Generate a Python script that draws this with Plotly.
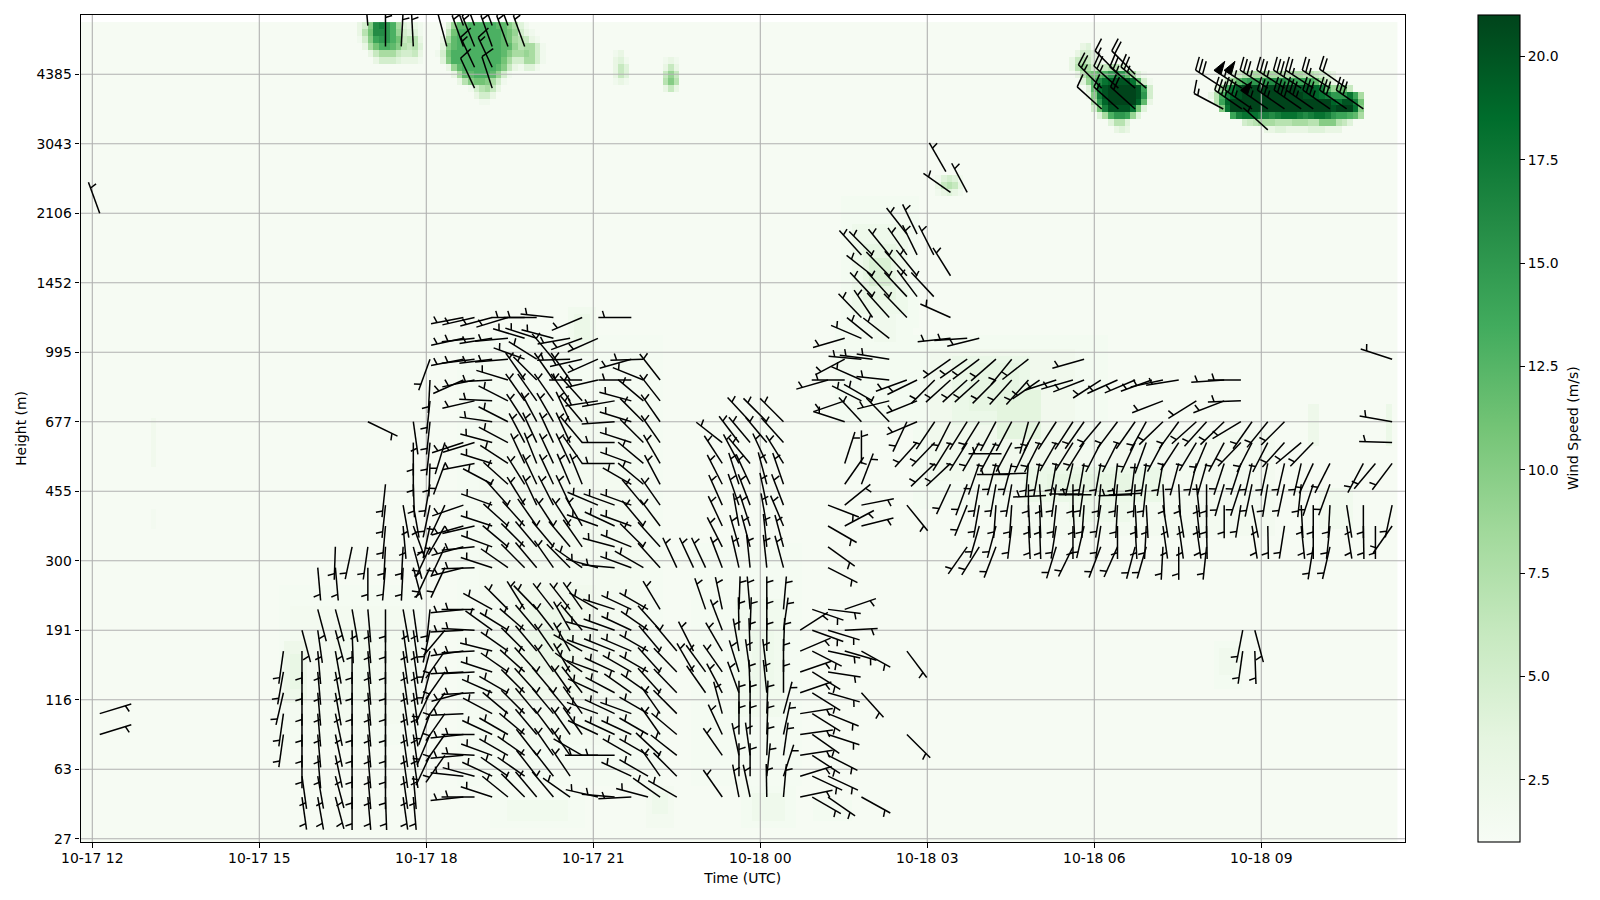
import math
from datetime import datetime, timedelta
import plotly.graph_objects as go

# ---------- axis labels ----------
height_labels = [27, 63, 116, 191, 300, 455, 677, 995, 1452, 2106, 3043, 4385]
height_ticks = list(range(0, 120, 10))
time_labels = ["2024-10-17 12:00", "2024-10-17 15:00", "2024-10-17 18:00", "2024-10-17 21:00",
               "2024-10-18 00:00", "2024-10-18 03:00", "2024-10-18 06:00", "2024-10-18 09:00"]
cbar_ticks = [2.5, 5, 7.5, 10, 12.5, 15, 17.5, 20]
T0 = datetime(2024, 10, 17, 12, 0)

# ---------- wind-speed field: background, broad soft patches, then cell rows of the jets ----------
background = 1.2
# (first col, last col, first level, last level, m/s)  col = 6 minute steps from T0
soft_patches = [
    (34, 59, 14, 36, 1.4), (36, 57, 17, 33, 1.6), (35, 38, 20, 28, 2.3), (36, 37, 22, 26, 2.9), (44, 50, 20, 30, 1.8),
    (66, 102, 8, 72, 1.4), (70, 98, 14, 62, 1.6), (76, 90, 20, 36, 1.9), (79, 86, 24, 33, 2.4), (81, 84, 26, 30, 2.8),
    (86, 90, 70, 76, 1.8), (87, 89, 72, 75, 2.5),
    (72, 88, 2, 6, 1.4), (75, 85, 3, 5, 1.8), (100, 104, 2, 7, 1.6), (101, 103, 4, 6, 2.2),
    (117, 126, 2, 7, 1.5), (119, 124, 3, 6, 2.1), (130, 136, 3, 5, 1.5),
    (108, 127, 8, 42, 1.4), (116, 124, 18, 34, 1.8), (119, 122, 22, 30, 2.2),
    (134, 147, 60, 74, 1.5), (135, 148, 74, 92, 1.5), (137, 146, 76, 88, 2.2), (139, 144, 78, 85, 3.2), (140, 143, 80, 83, 4.4),
    (141, 144, 72, 77, 2.0),
    (148, 182, 48, 72, 1.5), (151, 176, 52, 70, 1.9), (155, 168, 60, 69, 2.6), (158, 166, 62, 68, 3.2), (163, 170, 58, 64, 3.6),
    (165, 212, 44, 58, 1.6), (168, 192, 49, 53, 2.6), (172, 186, 50, 52, 3.2), (176, 186, 46, 50, 2.2),
    (219, 220, 57, 62, 2.3), (233, 233, 57, 62, 2.5), (221, 226, 45, 50, 1.8), (11, 11, 54, 60, 1.9), (11, 11, 45, 47, 1.6),
    (202, 206, 22, 28, 1.5), (203, 205, 24, 27, 2.0),
]
# (level, first col, cell values)
jet_rows = [
    # 17 Oct 17h jet
    (117, 48, [3, 5, 10, 16, 17, 15, 13, 8, 4, 3, 3, 2]),
    (116, 48, [3, 7, 11, 16, 16, 15, 13, 9, 5, 4, 4, 2]),
    (115, 48, [2, 5, 10, 14, 15, 15, 13, 11, 6, 7, 7, 3]),
    (114, 49, [3, 8, 11, 13, 13, 12, 10, 7, 6, 7, 4]),
    (113, 50, [3, 6, 8, 8, 8, 6, 5, 5, 6, 3]),
    (112, 51, [3, 5, 5, 5, 4, 3, 3, 3, 2]),
    # 17 Oct 19h jet
    (117, 64, [4, 9, 12, 12, 13, 13, 13, 13, 13, 12, 12, 10, 8, 4, 2]),
    (116, 64, [6, 11, 13, 13, 13, 13, 13, 13, 13, 13, 12, 11, 9, 5, 3, 2]),
    (115, 63, [3, 8, 12, 13, 13, 13, 13, 13, 13, 13, 13, 12, 11, 8, 7, 6, 3, 2]),
    (114, 63, [4, 10, 12, 13, 13, 13, 13, 13, 13, 13, 13, 12, 12, 9, 7, 8, 8, 5, 2]),
    (113, 62, [2, 5, 11, 13, 13, 13, 13, 13, 13, 13, 13, 13, 12, 10, 8, 8, 9, 8, 5, 2]),
    (112, 63, [4, 10, 13, 13, 13, 13, 13, 13, 13, 13, 13, 11, 8, 5, 5, 8, 8, 5, 2]),
    (111, 64, [3, 9, 12, 13, 13, 13, 13, 13, 13, 12, 10, 6, 3, 2, 4, 4, 2]),
    (110, 65, [3, 8, 12, 12, 13, 13, 13, 12, 9, 5, 2]),
    (109, 66, [3, 7, 10, 11, 11, 10, 8, 5, 2]),
    (108, 68, [2, 5, 7, 8, 6, 3]),
    (107, 69, [3, 5, 5, 3]),
    (106, 70, [2, 2]),
    # small spots
    (113, 94, [2, 3]), (112, 94, [3, 4, 2]), (111, 94, [3, 6, 4]), (110, 94, [3, 6, 4]), (109, 94, [2, 3, 2]),
    (112, 103, [2, 3, 2]), (111, 103, [3, 6, 3]), (110, 103, [6, 9, 6]), (109, 103, [7, 10, 7]), (108, 103, [3, 6, 3]),
    (95, 152, [2, 4, 5, 4, 2]), (94, 152, [3, 6, 7, 6, 3]), (93, 152, [2, 3, 4, 3, 2]),
    # 18 Oct 06h jet
    (114, 178, [3, 4]),
    (113, 177, [3, 5, 5, 4]),
    (112, 176, [3, 6, 7, 6, 4, 3]),
    (111, 176, [3, 7, 9, 8, 5, 5, 6, 7, 7, 5, 3]),
    (110, 177, [3, 7, 10, 11, 12, 13, 15, 16, 15, 12, 8, 4, 2]),
    (109, 178, [4, 9, 13, 16, 18, 19, 20, 20, 20, 18, 12, 5, 2]),
    (108, 179, [4, 12, 18, 20, 21, 21, 21, 21, 21, 20, 14, 5]),
    (107, 179, [3, 10, 17, 20, 21, 21, 21, 21, 21, 20, 15, 5]),
    (106, 180, [8, 15, 19, 21, 21, 21, 21, 21, 19, 12, 3]),
    (105, 180, [5, 11, 17, 20, 20, 20, 20, 18, 11, 4]),
    (104, 181, [4, 8, 13, 15, 15, 14, 9, 4]),
    (103, 183, [4, 7, 7, 4]),
    (102, 184, [3, 4, 3]),
    # 18 Oct 09h jet
    (110, 204, [2, 4, 5, 7, 7, 8, 8, 8, 8, 8, 7, 7, 8, 8, 7, 7, 6, 5, 4, 3]),
    (109, 203, [3, 6, 9, 12, 14, 15, 15, 15, 15, 16, 16, 16, 15, 14, 14, 14, 13, 12, 8, 5, 3]),
    (108, 202, [4, 9, 14, 18, 20, 21, 21, 21, 21, 21, 21, 21, 21, 21, 21, 20, 20, 20, 19, 17, 12, 9, 11, 11, 6]),
    (107, 201, [3, 7, 13, 17, 19, 20, 21, 21, 21, 21, 21, 21, 21, 21, 21, 21, 21, 20, 20, 19, 18, 17, 15, 15, 15, 18, 14, 8]),
    (106, 202, [7, 14, 19, 21, 21, 21, 21, 21, 21, 21, 21, 21, 21, 21, 21, 21, 21, 21, 21, 21, 21, 19, 18, 20, 20, 17, 11]),
    (105, 203, [10, 18, 21, 21, 21, 21, 21, 21, 21, 21, 21, 21, 21, 21, 21, 21, 21, 21, 21, 21, 20, 21, 21, 21, 18, 10]),
    (104, 205, [14, 17, 18, 18, 18, 17, 17, 16, 17, 18, 18, 18, 17, 16, 17, 18, 18, 17, 15, 14, 14, 13, 12, 8]),
    (103, 207, [5, 6, 7, 8, 8, 8, 7, 7, 7, 8, 8, 8, 7, 7, 10, 10, 10, 7, 6, 4]),
    (102, 211, [3, 3, 4, 4, 3, 3, 3, 3, 4, 4, 4, 3, 3, 3]),
]

# ---------- wind barbs: minutes after T0, level index, direction the wind comes from, knots ----------
# (minute, first level, direction for every third level; 0 = no barb)
barb_columns = [
    (8, 15, [73, 73]),
    (206, 15, [188, 188, 193, 190, 188]),
    (226, 6, [172, 172, 180, 180, 180, 180, 180, 180, 165]),
    (243, 6, [170, 170, 175, 175, 175, 175, 175, 175, 172, 165, 0, 175]),
    (262, 6, [165, 165, 168, 168, 168, 170, 170, 170, 165, 165, 0, 175, 182]),
    (280, 6, [180, 180, 180, 180, 180, 180, 180, 180, 178, 170, 0, 0, 192]),
    (297, 6, [175, 175, 175, 175, 175, 175, 175, 175, 175, 175, 0, 180, 188]),
    (316, 6, [178, 180, 180, 180, 180, 180, 180, 180, 180, 180, 0, 185, 183, 185, 186, 186]),
    (335, 6, [172, 172, 172, 172, 172, 172, 172, 172, 172, 170, 0, 183, 183, 175, 170]),
    (346, 6, [175, 175, 172, 172, 172, 172, 172, 172, 172, 172, 0, 165, 165, 160, 170, 178, 180, 180, 172]),
    (364, 12, [205, 203, 200, 205, 195, 195, 192, 186, 0, 205, 205, 192, 192, 190, 182, 186, 186, 186, 183, 200]),
    (380, 12, [215, 215, 215, 215, 215, 215, 220, 0, 0, 205, 205, 210, 205, 0, 200, 197]),
    (400, 6, [264, 276, 265, 264, 267, 255, 267, 262, 267, 264]),
    (412, 6, [270, 285, 273, 270, 0, 267, 267, 267, 273, 270]),
    (431, 6, [288, 295, 290, 295, 298, 294, 288, 284, 306, 299]),
    (448, 6, [309, 305, 300, 300, 310, 300, 305, 305, 302, 315]),
    (466, 6, [315, 305, 305, 310, 315, 315, 312, 315, 311, 328]),
    (479, 6, [320, 322, 322, 320, 320, 318, 318, 320, 320, 316]),
    (497, 6, [320, 322, 325, 323, 320, 320, 325, 325, 322, 322]),
    (515, 6, [305, 326, 325, 325, 320, 325, 330, 330, 330, 322]),
    (528, 6, [0, 0, 300, 325, 325, 322, 305, 300, 320, 325]),
    (545, 6, [283, 0, 270, 295, 290, 295, 290, 290, 285, 300]),
    (563, 6, [275, 0, 270, 295, 295, 298, 295, 292, 290, 288]),
    (581, 6, [267, 295, 300, 295, 290, 305, 300, 293, 295, 295]),
    (599, 6, [285, 300, 300, 300, 300, 305, 300, 300, 305, 300]),
    (612, 6, [305, 325, 313, 325, 325, 318, 318, 320, 318, 329]),
    (630, 6, [300, 315, 308, 310, 315, 316, 316, 320, 0, 0, 0, 335]),
    (648, 24, [330, 333, 0, 0, 0, 335]),
    (661, 21, [325, 324, 0, 0, 341, 0, 335]),
    (679, 6, [325, 0, 325, 335, 345, 332, 325, 330, 339, 348, 0, 339, 333, 335, 336, 333, 327, 308]),
    (697, 6, [349, 360, 348, 360, 360, 340, 343, 350, 359, 2, 0, 347, 344, 350, 341, 342, 332, 323]),
    (709, 6, [348, 360, 352, 360, 360, 358, 352, 358, 2, 355, 0, 354, 345, 342, 339, 335, 320, 320, 317]),
    (727, 6, [359, 6, 2, 2, 2, 354, 353, 360, 360, 360, 0, 354, 354, 350, 348, 345, 335, 320, 315]),
    (745, 6, [5, 18, 8, 12, 15, 360, 360, 2, 8, 5, 0, 345, 345, 337, 339, 341, 328, 318, 315]),
    (763, 6, [78, 73, 81, 82, 81, 71, 71, 67, 57]),
    (776, 6, [120, 115, 123, 125, 122, 122, 122, 117, 110, 109]),
    (793, 6, [125, 115, 117, 108, 112, 106, 99, 102, 107, 97, 0, 117, 126, 120, 111]),
    (811, 27, [106, 87, 71, 0, 0, 0, 62, 51, 35, 18]),
    (829, 6, [119, 0, 0, 0, 0, 138, 0, 119, 0, 0, 0, 0, 0, 76, 79, 21, 360]),
    (878, 15, [135, 0, 0, 0, 143, 0, 0, 0, 0, 0, 0, 141]),
    (1240, 27, [188, 191]),
    (1253, 27, [178, 165]),
]
# level -> {minute: direction}
barb_rows = {
    39: {400: 256, 412: 268, 431: 288, 448: 305, 466: 315, 479: 320, 497: 325, 515: 315, 528: 305, 545: 285, 563: 275, 581: 290, 594: 300, 612: 318},
    42: {400: 255, 412: 264, 431: 290, 448: 310, 466: 315, 479: 320, 497: 320, 515: 320, 528: 325, 563: 285, 581: 292, 594: 315, 612: 318,
         943: 215, 956: 212, 974: 201, 1039: 197, 1057: 206, 1087: 201, 1105: 204, 1124: 195,
         1136: 196, 1154: 183, 1171: 180, 1201: 186, 1316: 189, 1334: 193},
    45: {400: 254, 412: 257, 431: 288, 448: 312, 466: 318, 479: 325, 497: 327, 515: 327, 528: 330, 545: 290, 563: 295, 581: 290, 594: 320, 612: 323,
         956: 196, 974: 195, 991: 187, 1009: 177, 1021: 178, 1039: 189, 1057: 180, 1069: 193, 1087: 189, 1105: 180, 1124: 177,
         1136: 183, 1154: 172, 1171: 172, 1190: 172, 1201: 179, 1250: 171, 1267: 179, 1285: 189, 1303: 174, 1316: 180, 1334: 186,
         1352: 171, 1370: 179, 1383: 180, 1401: 215},
    48: {400: 251, 431: 290, 448: 318, 466: 328, 479: 335, 497: 333, 515: 335, 545: 293, 563: 290, 581: 290, 594: 320, 612: 325,
         943: 202, 956: 190, 974: 184, 991: 184, 1009: 177, 1021: 178, 1039: 186, 1057: 177, 1069: 184, 1087: 189, 1105: 183, 1124: 177,
         1136: 177, 1154: 171, 1171: 171, 1190: 174, 1201: 180, 1220: 180, 1238: 189, 1250: 169, 1303: 177, 1316: 180, 1334: 183,
         1352: 171, 1370: 180, 1401: 192},
    51: {431: 298, 448: 312, 466: 328, 479: 335, 497: 335, 515: 337, 528: 338, 581: 300, 594: 310, 612: 332,
         925: 205, 943: 200, 956: 190, 974: 190, 991: 190, 1009: 180, 1021: 176, 1039: 188, 1057: 180, 1069: 188, 1087: 185, 1105: 185, 1124: 183,
         1136: 186, 1154: 177, 1171: 177, 1190: 174, 1201: 180, 1220: 196, 1238: 198, 1250: 192, 1267: 189, 1285: 192, 1303: 186, 1316: 198, 1334: 200},
    54: {412: 259, 431: 287, 448: 303, 466: 335, 479: 338, 497: 335, 515: 335, 528: 325, 563: 270, 581: 290, 594: 310, 612: 330,
         908: 226, 925: 227, 956: 199, 974: 195, 991: 195, 1009: 185, 1021: 190, 1039: 190, 1057: 193, 1069: 190, 1087: 190, 1105: 187, 1124: 187,
         1136: 189, 1154: 190, 1171: 195, 1190: 193, 1201: 196, 1220: 198, 1238: 198, 1250: 193, 1267: 192, 1285: 193, 1303: 193, 1316: 205, 1334: 207,
         1370: 208, 1383: 220, 1401: 217},
    57: {400: 252, 412: 253, 431: 285, 448: 298, 466: 332, 479: 335, 497: 335, 515: 335, 528: 320, 563: 270, 581: 288, 594: 315, 612: 325,
         889: 222, 908: 224, 925: 212, 943: 212, 956: 210, 974: 208, 991: 208, 1009: 205, 1021: 207, 1039: 210, 1057: 212, 1069: 212, 1087: 207, 1105: 207, 1124: 205,
         1136: 200, 1154: 208, 1171: 213, 1190: 211, 1201: 203, 1220: 208, 1238: 224, 1250: 207, 1267: 207, 1285: 222, 1303: 230, 1316: 224, 1401: 272},
    60: {297: 116, 431: 278, 448: 297, 466: 327, 479: 332, 497: 330, 515: 335, 528: 320, 563: 266, 581: 287, 594: 315, 612: 325,
         811: 288, 829: 317, 859: 316, 878: 205, 889: 247, 908: 214, 925: 207, 943: 212, 956: 212, 974: 208, 991: 208, 1009: 195, 1021: 208, 1039: 213, 1057: 213, 1069: 215, 1087: 220, 1105: 217, 1124: 215,
         1136: 209, 1154: 226, 1171: 216, 1190: 228, 1201: 222, 1220: 226, 1238: 239, 1250: 215, 1267: 219, 1285: 225, 1401: 280},
    63: {412: 257, 431: 273, 448: 297, 466: 325, 479: 325, 497: 325, 515: 325, 528: 318, 545: 261, 563: 260, 581: 285, 594: 310, 612: 322,
         811: 251, 829: 297, 841: 300, 859: 256, 889: 248, 1154: 249, 1190: 238, 1220: 249, 1238: 268},
    66: {400: 246, 412: 258, 431: 267, 448: 287, 466: 325, 479: 315, 497: 325, 515: 325, 528: 270, 545: 257, 581: 270, 594: 292, 612: 322,
         793: 254, 811: 270, 829: 294, 859: 276, 878: 250, 889: 244, 908: 225, 925: 228, 943: 228, 956: 228, 974: 225, 991: 222,
         1009: 222, 1021: 235, 1039: 252, 1057: 254, 1069: 249, 1087: 237, 1105: 246, 1124: 247, 1142: 250, 1154: 258, 1171: 261, 1220: 266, 1238: 270},
    69: {400: 259, 412: 263, 431: 263, 448: 265, 466: 290, 479: 302, 497: 320, 515: 268, 528: 257, 545: 246, 581: 254, 594: 268,
         811: 242, 829: 275, 841: 277, 859: 279, 925: 235, 943: 235, 956: 233, 974: 229, 991: 219, 1009: 232, 1069: 254, 1401: 288},
    72: {400: 258, 412: 264, 431: 261, 448: 265, 466: 287, 479: 288, 497: 285, 515: 260, 528: 250, 545: 246,
         811: 254, 829: 293, 841: 309, 859: 308, 925: 264, 943: 266, 956: 256},
    75: {400: 259, 412: 257, 431: 255, 448: 253, 466: 270, 479: 270, 497: 276, 528: 247, 581: 270,
         829: 316, 841: 326, 859: 318, 878: 316, 925: 294},
    78: {841: 317, 859: 318, 878: 317, 889: 323, 907: 317},
    81: {841: 308, 859: 316, 878: 318, 889: 321, 925: 328},
    84: {829: 318, 841: 315, 859: 321, 878: 325, 889: 334, 907: 333},
    87: {878: 322, 889: 334},
    90: {8: 340},
    93: {943: 332, 925: 305},
    96: {920: 330},
}
# flat barbs that sit between the regular levels: (minute, level, direction)
barb_between = [(980, 55.4, 270), (989, 52.4, 270), (1007, 52.6, 268), (1028, 49.4, 267), (1067, 49.6, 270), (1077, 49.5, 270), (1120, 49.5, 268), (1131, 49.7, 267)]
# jet barbs with more feathers: (minute, level, direction, knots)
barb_fast = [
    (1088, 105, 312, 10), (1106, 105, 312, 15), (1124, 105, 312, 20),
    (1088, 108, 315, 25), (1106, 108, 312, 25), (1124, 108, 310, 25), (1136, 108, 310, 25),
    (1106, 110, 315, 15), (1124, 110, 315, 20),
    (1219, 105, 298, 15), (1239, 105, 305, 35), (1250, 105, 305, 35), (1267, 105, 305, 55), (1285, 105, 305, 35),
    (1303, 105, 305, 35), (1316, 105, 305, 35), (1334, 105, 305, 35), (1352, 105, 305, 30), (1370, 105, 305, 30),
    (1219, 108, 303, 30), (1239, 108, 303, 55), (1250, 108, 303, 55), (1267, 108, 303, 35), (1285, 108, 303, 35),
    (1303, 108, 303, 35), (1316, 108, 303, 25), (1334, 108, 303, 25), (1352, 108, 305, 20),
    (1267, 102, 312, 5),
    (297, 117, 355, 10), (316, 114, 360, 15), (333, 114, 3, 5), (346, 114, 357, 5),
    (382, 114, 345, 10), (400, 114, 340, 15), (412, 114, 338, 15), (431, 114, 340, 15), (448, 114, 340, 15), (466, 114, 340, 15),
    (400, 117, 340, 15), (412, 117, 340, 15), (431, 117, 340, 15), (448, 117, 340, 15),
    (412, 111, 335, 15), (431, 111, 335, 15), (412, 108, 335, 10), (431, 108, 342, 10),
]

# ---------- page geometry ----------
W, H = 1600, 900
PLOT_L, PLOT_R, PLOT_T, PLOT_B = 80.5, 1405.0, 15.0, 842.0
PX_PER_HOUR = 167.0 / 3
TICK_0_X = 92.3
Y_RANGE = (-0.47, 118.52)
PX_PER_LEVEL = (PLOT_B - PLOT_T) / (Y_RANGE[1] - Y_RANGE[0])


def when(minutes):
    return (T0 + timedelta(minutes=minutes)).isoformat()


x_range = [when((PLOT_L - TICK_0_X) / PX_PER_HOUR * 60), when((PLOT_R - TICK_0_X) / PX_PER_HOUR * 60)]

# ---------- assemble field ----------
N_COLS, FIRST_COL, N_LEVELS = 237, -2, 118
z = [[background] * N_COLS for _ in range(N_LEVELS)]
for c0, c1, l0, l1, v in soft_patches:
    for l in range(l0, l1 + 1):
        for c in range(c0, c1 + 1):
            z[l][c - FIRST_COL] = max(z[l][c - FIRST_COL], v)
for level, c0, cells in jet_rows:
    for i, v in enumerate(cells):
        z[level][c0 + i - FIRST_COL] = v
heat_x = [when(6 * (FIRST_COL + i)) for i in range(N_COLS)]

# ---------- assemble barbs ----------
barbs = []
for minute, first, dirs in barb_columns:
    for i, d in enumerate(dirs):
        if d:
            barbs.append((minute, first + 3 * i, d, 5))
for level, row in barb_rows.items():
    for minute, d in row.items():
        barbs.append((minute, level, d, 5))
for minute, level, d in barb_between:
    barbs.append((minute, level, d, 5))
barbs.extend(barb_fast)

LEN = 33.0
SPACING, TALL, WIDE = 0.125 * LEN, 0.4 * LEN, 0.25 * LEN
line_x, line_y, flag_x, flag_y = [], [], [], []


def place(minute, level, along, across, d):
    """Local barb coordinates (px along shaft, px to its clockwise side) to data coordinates."""
    a = math.radians(d)
    px = along * math.sin(a) + across * math.cos(a)
    py = along * math.cos(a) - across * math.sin(a)
    return when(minute + px / PX_PER_HOUR * 60), level + py / PX_PER_LEVEL


def stroke(minute, level, d, pts):
    for along, across in pts:
        X, Y = place(minute, level, along, across, d)
        line_x.append(X)
        line_y.append(Y)
    line_x.append(None)
    line_y.append(None)


for minute, level, d, kt in barbs:
    stroke(minute, level, d, [(0, 0), (LEN, 0)])
    flags, rest = kt // 50, kt % 50
    fulls, half = rest // 10, rest % 10 >= 5
    off = LEN
    for _ in range(flags):
        for along, across in [(off, 0), (off - WIDE / 2, TALL), (off - WIDE, 0), (off, 0)]:
            X, Y = place(minute, level, along, across, d)
            flag_x.append(X)
            flag_y.append(Y)
        flag_x.append(None)
        flag_y.append(None)
        off -= WIDE + SPACING
    for _ in range(fulls):
        stroke(minute, level, d, [(off, 0), (off + WIDE / 2, TALL)])
        off -= SPACING
    if half:
        if off == LEN:
            off -= 1.5 * SPACING
        stroke(minute, level, d, [(off, 0), (off + WIDE / 4, TALL / 2)])

# ---------- grid drawn over the field ----------
grid_x, grid_y = [], []
for t in time_labels:
    grid_x += [t, t, None]
    grid_y += [Y_RANGE[0], Y_RANGE[1], None]
for lv in height_ticks:
    grid_x += [x_range[0], x_range[1], None]
    grid_y += [lv, lv, None]

FONT = dict(family="DejaVu Sans", size=13.9, color="black")
greens = [[0.0, "#f7fcf5"], [0.125, "#e5f5e0"], [0.25, "#c7e9c0"], [0.375, "#a1d99b"], [0.5, "#74c476"],
          [0.625, "#41ab5d"], [0.75, "#238b45"], [0.875, "#006d2c"], [1.0, "#00441b"]]

fig = go.Figure()
fig.add_trace(go.Heatmap(
    x=heat_x, y=list(range(N_LEVELS)), z=z, zmin=1, zmax=21, colorscale=greens, zsmooth=False, hoverinfo="skip",
    colorbar=dict(
        thicknessmode="pixels", thickness=42, lenmode="fraction", len=(PLOT_B - PLOT_T) / H,
        x=1478 / W, xanchor="left", xpad=0, y=1 - PLOT_T / H, yanchor="top", ypad=0,
        outlinecolor="black", outlinewidth=1.1, ticks="outside", ticklen=4.9, tickwidth=1.1, tickcolor="black",
        tickvals=cbar_ticks, tickformat=".1f", tickfont=FONT,
    ),
))
fig.add_trace(go.Scatter(x=grid_x, y=grid_y, mode="lines", line=dict(color="#b0b0b0", width=1.1),
                         hoverinfo="skip", showlegend=False))
fig.add_trace(go.Scatter(x=line_x, y=line_y, mode="lines", line=dict(color="black", width=1.5),
                         hoverinfo="skip", showlegend=False))
fig.add_trace(go.Scatter(x=flag_x, y=flag_y, mode="lines", fill="toself", fillcolor="black",
                         line=dict(color="black", width=1), hoverinfo="skip", showlegend=False))

fig.update_layout(
    width=W, height=H, autosize=False, margin=dict(l=0, r=0, t=0, b=0, pad=0),
    paper_bgcolor="white", plot_bgcolor="white", font=FONT, showlegend=False,
    xaxis=dict(
        type="date", domain=[PLOT_L / W, PLOT_R / W], range=x_range, tickvals=time_labels, tickformat="%m-%d %H",
        ticks="outside", ticklen=4.9, tickwidth=1.1, tickcolor="black", showgrid=False, zeroline=False,
        showline=True, linecolor="black", linewidth=1.1, mirror=True, tickfont=FONT, automargin=False,
        ticklabelstandoff=-2,
        title=dict(text="Time (UTC)", font=FONT, standoff=8),
    ),
    yaxis=dict(
        domain=[1 - PLOT_B / H, 1 - PLOT_T / H], range=list(Y_RANGE), tickvals=height_ticks, ticktext=[str(v) for v in height_labels],
        ticks="outside", ticklen=4.9, tickwidth=1.1, tickcolor="black", showgrid=False, zeroline=False,
        showline=True, linecolor="black", linewidth=1.1, mirror=True, tickfont=FONT, automargin=False,
        title=dict(text="Height (m)", font=FONT, standoff=6),
    ),
    annotations=[dict(text="Wind Speed (m/s)", xref="paper", yref="paper", x=1572.5 / W, y=1 - 428.5 / H,
                      xanchor="center", yanchor="middle", textangle=-90, showarrow=False, font=FONT)],
)
fig.write_html("out.html", config={"displayModeBar": False}, post_script="document.body.style.margin='0';")
